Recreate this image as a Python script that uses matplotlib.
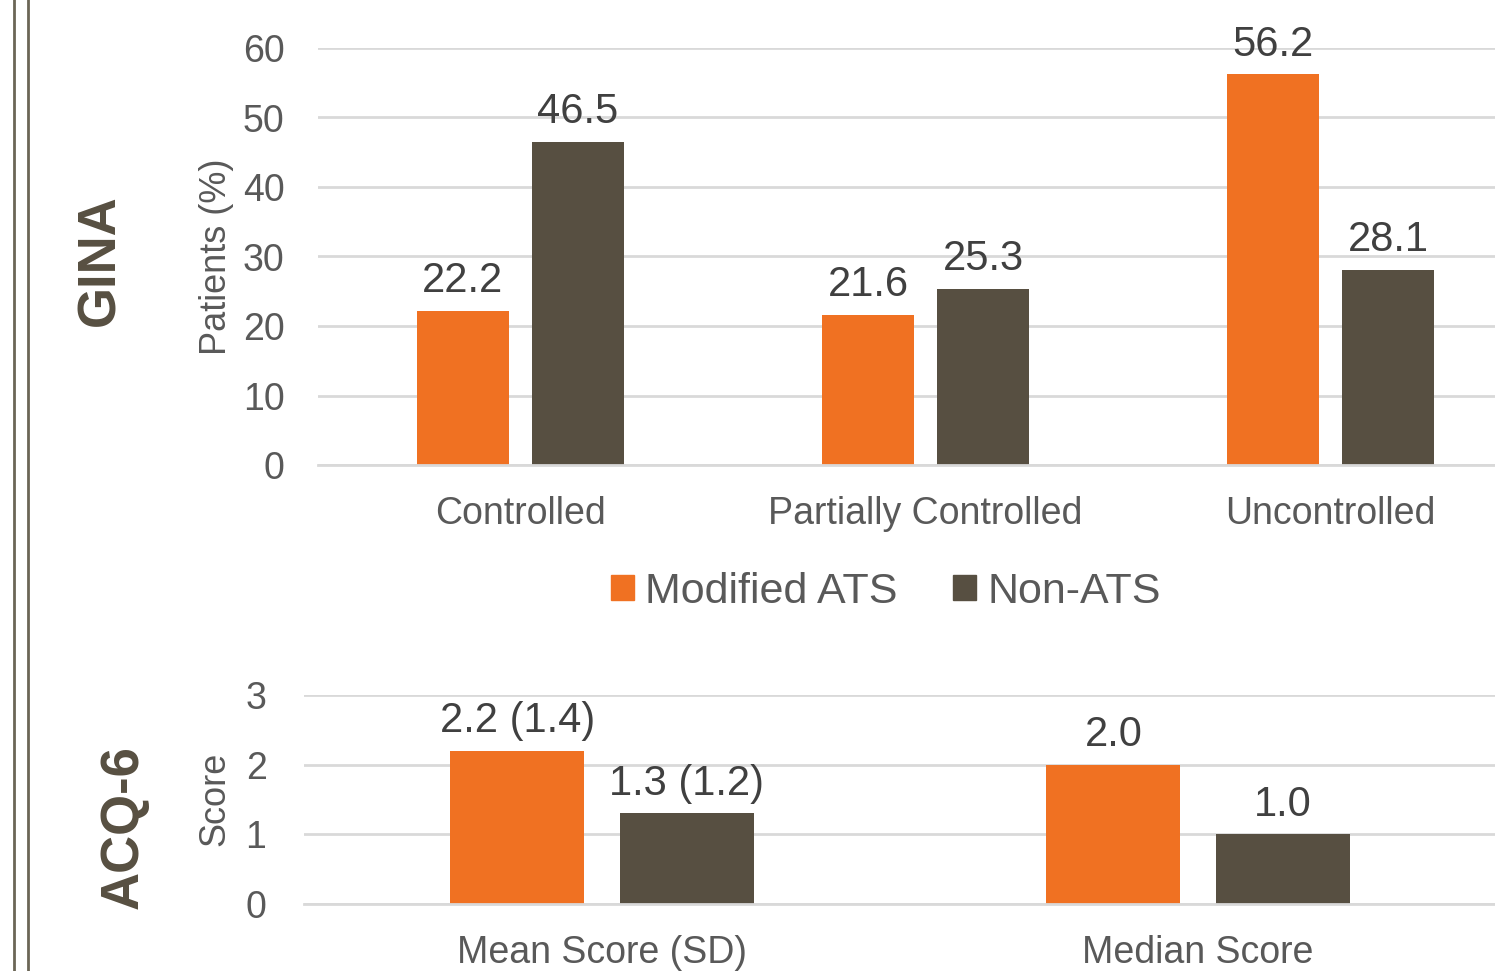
import matplotlib.pyplot as plt
from matplotlib.lines import Line2D
from matplotlib.patches import Patch
import numpy as np

plt.rcParams['font.family'] = ['Liberation Sans', 'DejaVu Sans']

gina_cats = ['Controlled', 'Partially Controlled', 'Uncontrolled']
gina_mod = [22.2, 21.6, 56.2]
gina_non = [46.5, 25.3, 28.1]

acq_cats = ['Mean Score (SD)', 'Median Score']
acq_mod = [2.2, 2.0]
acq_non = [1.3, 1.0]
acq_mod_sd = [1.4, None]
acq_non_sd = [1.2, None]

series = ['Modified ATS', 'Non-ATS']
orange = '#F07122'
brown = '#574F41'
grid_c = '#D9D9D9'
tick_c = '#595959'
lab_c = '#404040'

W, H = 1495, 971
fig = plt.figure(figsize=(W / 100, H / 100), dpi=100)

def px(l, t, r, b):
    return [l / W, 1 - b / H, (r - l) / W, (b - t) / H]

def fmt(v, sd):
    return f'{v:.1f}' if sd is None else f'{v:.1f} ({sd:.1f})'

def draw(ax, cats, mod, non, ymax, step, ypad, mod_sd=None, non_sd=None):
    x = np.arange(len(cats))
    w, off = 0.225, 0.142
    b1 = ax.bar(x - off, mod, w, color=orange, zorder=2)
    b2 = ax.bar(x + off, non, w, color=brown, zorder=2)
    mod_sd = mod_sd or [None] * len(cats)
    non_sd = non_sd or [None] * len(cats)
    for bars, vals, sds in ((b1, mod, mod_sd), (b2, non, non_sd)):
        for b, v, s in zip(bars, vals, sds):
            ax.annotate(fmt(v, s), (b.get_x() + b.get_width() / 2, v),
                        xytext=(0, 7), textcoords='offset points',
                        ha='center', va='bottom', fontsize=30, color=lab_c)
    ax.set_xlim(-0.5, len(cats) - 0.5)
    ax.set_ylim(0, ymax)
    ax.set_yticks(np.arange(0, ymax + step / 2, step))
    ax.set_xticks(x)
    ax.set_xticklabels(cats)
    ax.yaxis.grid(True, color=grid_c, linewidth=2, zorder=0)
    ax.set_axisbelow(True)
    for s in ('top', 'right', 'left'):
        ax.spines[s].set_visible(False)
    ax.spines['bottom'].set_color(grid_c)
    ax.spines['bottom'].set_linewidth(2)
    ax.tick_params(axis='both', length=0, labelcolor=tick_c)
    ax.tick_params(axis='y', labelsize=27, pad=ypad)
    ax.tick_params(axis='x', labelsize=27, pad=22)

ax1 = fig.add_axes(px(318, 48, 1533, 465))
draw(ax1, gina_cats, gina_mod, gina_non, 60, 10, 24)

ax2 = fig.add_axes(px(304, 695, 1496, 904))
draw(ax2, acq_cats, acq_mod, acq_non, 3, 1, 27, acq_mod_sd, acq_non_sd)

fig.text(217 / W, 1 - 257 / H, 'Patients (%)', rotation=90, ha='center', va='center',
         fontsize=26, color=tick_c)
fig.text(215 / W, 1 - 799 / H, 'Score', rotation=90, ha='center', va='center',
         fontsize=26, color=tick_c)
fig.text(100 / W, 1 - 260 / H, 'GINA', rotation=90, ha='center', va='center',
         fontsize=38, fontweight='bold', color=brown)
fig.text(124 / W, 1 - 827 / H, 'ACQ-6', rotation=90, ha='center', va='center',
         fontsize=38, fontweight='bold', color=brown)

handles = [Patch(color=orange), Patch(color=brown)]
fig.legend(handles, series, loc='center', bbox_to_anchor=(886 / W, 1 - 592 / H),
           ncol=2, frameon=False, fontsize=31, labelcolor=tick_c,
           handlelength=0.53, handleheight=0.53, handletextpad=0.25, columnspacing=1.3)

for xl in (14, 28):
    fig.add_artist(Line2D([xl / W, xl / W], [0, 1], color='#6B6656', linewidth=2))

fig.savefig('out.png', dpi=100)
